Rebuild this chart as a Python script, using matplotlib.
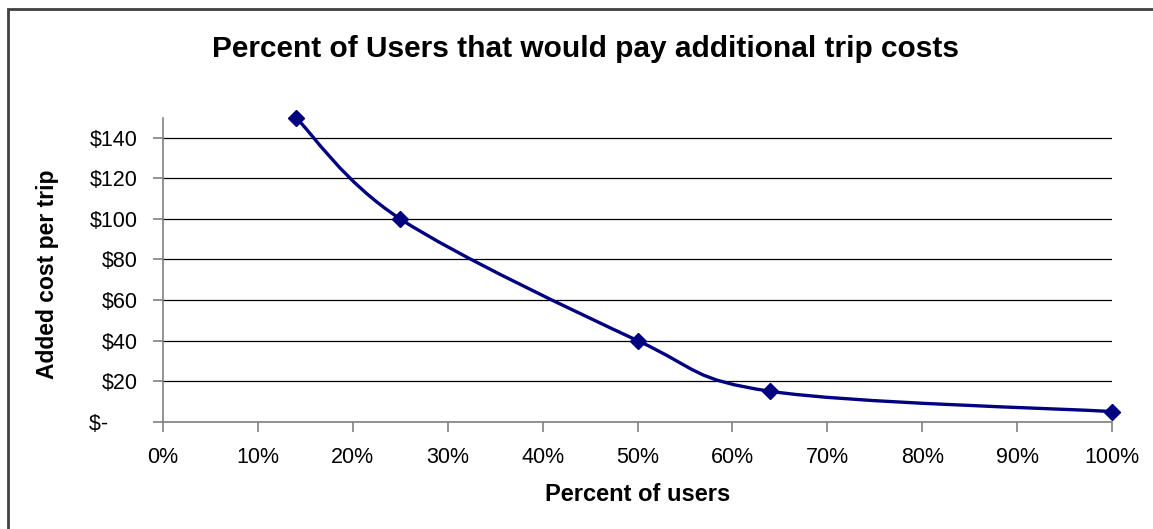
import matplotlib
matplotlib.use("Agg")
import matplotlib.pyplot as plt
from matplotlib.path import Path
from matplotlib.patches import PathPatch, Rectangle
import numpy as np

# Data
pct_users = [14, 25, 50, 64, 100]
added_cost = [150, 100, 40, 15, 5]
x_ticks = [0, 10, 20, 30, 40, 50, 60, 70, 80, 90, 100]
x_tick_labels = [f"{v}%" for v in x_ticks]
y_ticks = [0, 20, 40, 60, 80, 100, 120, 140]
y_tick_labels = ["$-     "] + [f"${v}" for v in y_ticks[1:]]

plt.rcParams['font.family'] = ['Liberation Sans', 'DejaVu Sans']

fig = plt.figure(figsize=(11.53, 5.29), dpi=100)
ax = fig.add_axes([163/1153, 1-421.7/529, (1112-163)/1153, (421.7-117.5)/529])

ax.set_xlim(0, 100)
ax.set_ylim(0, 150)

ax.set_xticks(x_ticks)
ax.set_xticklabels(x_tick_labels, fontsize=15.5)
ax.set_yticks(y_ticks)
ax.set_yticklabels(y_tick_labels, fontsize=15.5)

for s in ['top', 'right']:
    ax.spines[s].set_visible(False)
for s in ['left', 'bottom']:
    ax.spines[s].set_color('#808080')
    ax.spines[s].set_linewidth(1.2)
ax.tick_params(axis='both', direction='out', length=7, width=1.2, color='#808080')
ax.tick_params(axis='x', pad=11)
ax.tick_params(axis='y', pad=11)

ax.yaxis.grid(True, color='black', linewidth=0.9)
ax.set_axisbelow(True)

# smooth line (Catmull-Rom style Bezier through the data points)
pts = np.column_stack([pct_users, added_cost]).astype(float)
verts = [tuple(pts[0])]
codes = [Path.MOVETO]
n = len(pts)
for i in range(n - 1):
    p0 = pts[i - 1] if i > 0 else pts[i]
    p1 = pts[i]
    p2 = pts[i + 1]
    p3 = pts[i + 2] if i + 2 < n else pts[i + 1]
    c1 = p1 + (p2 - p0) / 6.0
    c2 = p2 - (p3 - p1) / 6.0
    verts += [tuple(c1), tuple(c2), tuple(p2)]
    codes += [Path.CURVE4] * 3
path = Path(verts, codes)
ax.add_patch(PathPatch(path, fill=False, edgecolor='#000080', linewidth=2.4,
                       capstyle='round', joinstyle='round', clip_on=False, zorder=3))
ax.plot(pct_users, added_cost, linestyle='none', marker='D', markersize=8,
        color='#000080', clip_on=False, zorder=4)

fig.text(0.508, 0.907, "Percent of Users that would pay additional trip costs",
         ha='center', va='center', fontsize=21.5, fontweight='bold')
fig.text(0.553, 0.066, "Percent of users", ha='center', va='center',
         fontsize=17, fontweight='bold')
fig.text(0.041, 0.481, "Added cost per trip", ha='center', va='center',
         rotation=90, fontsize=16.5, fontweight='bold')

# chart border (partially visible)
fig.add_artist(Rectangle((7.5/1153, -0.1), 1.2, (529-9)/529 + 0.1,
                         transform=fig.transFigure, fill=False,
                         edgecolor='#404040', linewidth=2))

fig.savefig("out.png", dpi=100)
